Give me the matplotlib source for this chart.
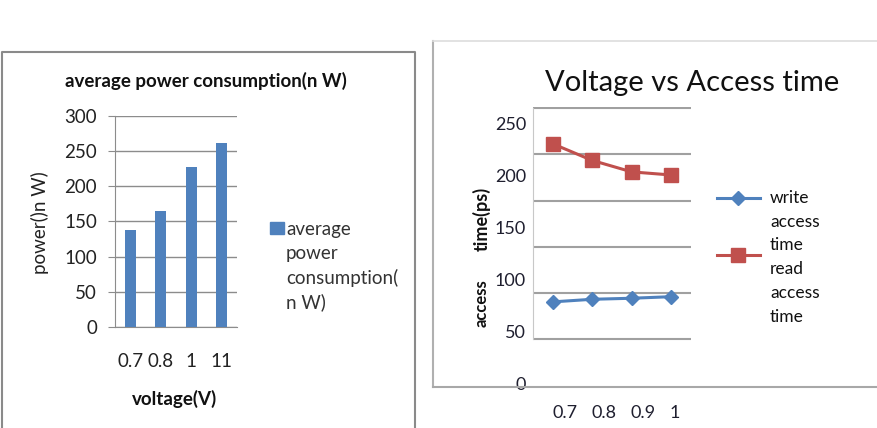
import matplotlib
matplotlib.use("Agg")
import matplotlib.pyplot as plt
from matplotlib.lines import Line2D
from matplotlib.patches import Rectangle
import numpy as np

plt.rcParams['font.family'] = ['Lato', 'DejaVu Sans']

# ---------------- data ----------------
volt_labels_left = ["0.7", "0.8", "1", "11"]
power_nW = [138, 165, 228, 262]

volt_labels_right = ["0.7", "0.8", "0.9", "1"]
write_access = [78, 80.5, 81.5, 83]
read_access = [230, 214, 203, 200]

left_yticks = [0, 50, 100, 150, 200, 250, 300]
right_yticks = [0, 50, 100, 150, 200, 250]

BLUE = '#4F81BD'
RED = '#C0504D'
GRID = '#8C8C8C'

W, H = 877, 428
fig = plt.figure(figsize=(W / 100, H / 100), dpi=100)


def fx(px):
    return px / W


def fy(py):
    return 1 - py / H


# ---------------- frames ----------------
fig.add_artist(Line2D([fx(2), fx(2), fx(415), fx(415)], [fy(430), fy(52), fy(52), fy(430)],
                      color='#8a8a8a', lw=1.5, transform=fig.transFigure))
fig.add_artist(Line2D([fx(433), fx(433)], [fy(387), fy(41)], color='#b0b0b0', lw=1.5,
                      transform=fig.transFigure))
fig.add_artist(Line2D([fx(433), fx(877)], [fy(41), fy(41)], color='#dddddd', lw=1.2,
                      transform=fig.transFigure))
fig.add_artist(Line2D([fx(433), fx(877)], [fy(387), fy(387)], color='#a8a8a8', lw=1.5,
                      transform=fig.transFigure))

# ---------------- left chart ----------------
ax1 = fig.add_axes([fx(115), fy(327), (237 - 115) / W, (327 - 116) / H])
x1 = np.arange(len(power_nW))
ax1.bar(x1, power_nW, width=0.37, color=BLUE, zorder=3)
ax1.set_xlim(-0.5, len(power_nW) - 0.5)
ax1.set_ylim(0, 300)
ax1.set_yticks(left_yticks)
ax1.set_xticks(x1)
ax1.set_xticklabels(volt_labels_left)
ax1.yaxis.grid(True, color=GRID, lw=1)
ax1.set_axisbelow(True)
for s in ['top', 'right']:
    ax1.spines[s].set_visible(False)
ax1.spines['left'].set_color(GRID)
ax1.spines['bottom'].set_color(GRID)
ax1.tick_params(axis='y', length=5, color=GRID, pad=8, labelsize=13.5, labelcolor='#222222')
ax1.tick_params(axis='x', length=0, pad=19, labelsize=13.5, labelcolor='#222222')

fig.text(fx(206), fy(81), "average power consumption(n W)", fontsize=13.5, fontweight='bold',
         ha='center', va='center', color='#111111')
fig.text(fx(175), fy(399), "voltage(V)", fontsize=13.5, fontweight='bold',
         ha='center', va='center', color='#111111')
fig.text(fx(40), fy(223), "power()n W)", fontsize=13.5, rotation=90,
         ha='center', va='center', color='#222222')

fig.add_artist(Rectangle((fx(270), fy(234)), 14 / W, 12 / H, color=BLUE,
                         transform=fig.transFigure))
for txt, py in zip(["average", "power", "consumption(", "n W)"], [229, 253, 278, 302]):
    fig.text(fx(286), fy(py), txt, fontsize=13.5, ha='left', va='center', color='#333333')

# ---------------- right chart ----------------
px_per_unit = 1.04
zero_px = 383
ax2 = fig.add_axes([fx(533), fy(387), (691 - 533) / W, (387 - 107) / H])
x2 = np.arange(len(write_access))
ax2.plot(x2, write_access, color=BLUE, lw=2.2, marker='D', markersize=7, zorder=4)
ax2.plot(x2, read_access, color=RED, lw=2.2, marker='s', markersize=9.5, zorder=4)
ax2.set_xlim(-0.5, len(write_access) - 0.5)
ax2.set_ylim((zero_px - 387) / px_per_unit, (zero_px - 107) / px_per_unit)
ax2.set_yticks(right_yticks)
grid_px = [108.3, 154.3, 201, 246.7, 293.3, 339.3]
grid_vals = [(zero_px - p) / px_per_unit for p in grid_px]
ax2.set_yticks(grid_vals, minor=True)
ax2.yaxis.grid(True, which='minor', color='#a0a0a0', lw=1.5)
ax2.yaxis.grid(False, which='major')
ax2.set_axisbelow(True)
label_offsets = [0.31, 0.30, 0.29, 0.09]
ax2.set_xticks(x2 + np.array(label_offsets))
ax2.set_xticklabels(volt_labels_right)
for s in ['top', 'right', 'bottom']:
    ax2.spines[s].set_visible(False)
ax2.spines['left'].set_color('#c8c8c8')
ax2.spines['left'].set_bounds(grid_vals[-1], grid_vals[0])
ax2.tick_params(axis='y', which='both', length=0, pad=5, labelsize=13, labelcolor='#1f1f2f')
ax2.tick_params(axis='x', length=0, pad=13, labelsize=13, labelcolor='#1f1f2f')

fig.text(fx(692), fy(83), "Voltage vs Access time", fontsize=21, ha='center', va='center',
         color='#111111')
fig.text(fx(482), fy(219), "time(ps)", fontsize=13, fontweight='bold', rotation=90,
         ha='center', va='center', color='#111111')
fig.text(fx(482), fy(303), "access", fontsize=12, fontweight='bold', rotation=90,
         ha='center', va='center', color='#111111')

fig.add_artist(Line2D([fx(717), fx(760)], [fy(198), fy(198)], color=BLUE, lw=2.2,
                      transform=fig.transFigure))
fig.add_artist(Line2D([fx(738)], [fy(198)], color=BLUE, marker='D', markersize=7,
                      transform=fig.transFigure))
fig.add_artist(Line2D([fx(717), fx(760)], [fy(255), fy(255)], color=RED, lw=2.2,
                      transform=fig.transFigure))
fig.add_artist(Line2D([fx(738)], [fy(255)], color=RED, marker='s', markersize=9.5,
                      transform=fig.transFigure))
for txt, py in zip(["write", "access", "time", "read", "access", "time"],
                   [198, 222, 245, 269, 293, 317]):
    fig.text(fx(770), fy(py), txt, fontsize=12.5, ha='left', va='center', color='#111111')

fig.savefig("out.png", dpi=100)
